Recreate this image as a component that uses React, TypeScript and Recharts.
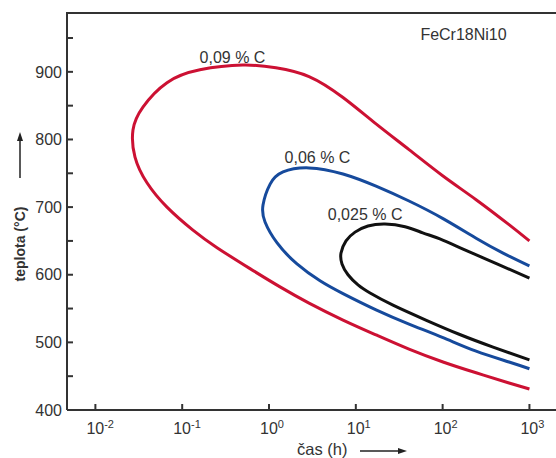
import React from 'react';
import { LineChart, Line, XAxis, YAxis, ReferenceDot } from 'recharts';

// time (h) on a log axis, temperature (°C)
const xTicks = [0.01, 0.1, 1, 10, 100, 1000];
const xTickExponents = ['-2', '-1', '0', '1', '2', '3'];
const yTicks = [400, 450, 500, 550, 600, 650, 700, 750, 800, 850, 900, 950];

const curve009 = [
  { t: 1000, T: 650 }, { t: 582, T: 674 }, { t: 243, T: 711 }, { t: 101, T: 746 },
  { t: 41, T: 785 }, { t: 17.1, T: 823 }, { t: 7.12, T: 862 }, { t: 2.89, T: 893 },
  { t: 1.2, T: 906 }, { t: 0.5, T: 910 }, { t: 0.16, T: 903 }, { t: 0.0668, T: 884 },
  { t: 0.0353, T: 848 }, { t: 0.0271, T: 814 }, { t: 0.0286, T: 774 }, { t: 0.0393, T: 736 },
  { t: 0.0668, T: 700 }, { t: 0.133, T: 666 }, { t: 0.252, T: 640 }, { t: 0.604, T: 609 },
  { t: 1.34, T: 582 }, { t: 2.89, T: 558 }, { t: 7.12, T: 533 }, { t: 17.1, T: 511 },
  { t: 41, T: 490 }, { t: 101, T: 471 }, { t: 243, T: 455 }, { t: 582, T: 440 },
  { t: 1000, T: 431 },
];

const curve006 = [
  { t: 1000, T: 613 }, { t: 497, T: 632 }, { t: 243, T: 654 }, { t: 101, T: 683 },
  { t: 41, T: 709 }, { t: 17.1, T: 731 }, { t: 7.12, T: 749 }, { t: 2.89, T: 758 },
  { t: 1.45, T: 752 }, { t: 1.03, T: 734 }, { t: 0.853, T: 703 }, { t: 0.9, T: 678 },
  { t: 1.24, T: 647 }, { t: 2.1, T: 616 }, { t: 3.87, T: 591 }, { t: 7.12, T: 572 },
  { t: 17.1, T: 548 }, { t: 41, T: 527 }, { t: 101, T: 507 }, { t: 243, T: 487 },
  { t: 582, T: 471 }, { t: 1000, T: 461 },
];

const curve0025 = [
  { t: 1000, T: 595 }, { t: 423, T: 616 }, { t: 172, T: 638 }, { t: 93, T: 653 },
  { t: 59, T: 662 }, { t: 36.9, T: 671 }, { t: 21.7, T: 675 }, { t: 13.8, T: 672 },
  { t: 9.8, T: 663 }, { t: 7.71, T: 650 }, { t: 6.75, T: 632 }, { t: 6.93, T: 616 },
  { t: 8.13, T: 600 }, { t: 10.6, T: 585 }, { t: 14.6, T: 573 }, { t: 26.8, T: 555 },
  { t: 64, T: 533 }, { t: 155, T: 512 }, { t: 381, T: 493 }, { t: 1000, T: 474 },
];

const curveLabels = [
  { t: 0.38, T: 922, text: '0,09 % C' },
  { t: 3.62, T: 774, text: '0,06 % C' },
  { t: 12.8, T: 690, text: '0,025 % C' },
  { t: 174, T: 955, text: 'FeCr18Ni10' },
];

const CHART_W = 556;
const CHART_H = 458;
const TOP_MARGIN = 13;
const Y_AXIS_W = 67;
const FONT = '"Liberation Sans", Arial, Helvetica, sans-serif';
const TEXT = '#333';
const AXIS = '#333';
const X_DOMAIN: [number, number] = [Math.pow(10, -2.327), Math.pow(10, 3.306)];
const Y_DOMAIN: [number, number] = [400, 987];

const XTick = (props: any) => {
  const { x, y, payload } = props;
  const idx = xTicks.indexOf(payload.value);
  const exp = idx >= 0 ? xTickExponents[idx] : '';
  return (
    <text x={x - 9} y={y} dy="0.72em" fontSize={16} fontFamily={FONT} fill={TEXT} textAnchor="start">
      10
      <tspan dy={-6} fontSize={11}>{exp}</tspan>
    </text>
  );
};

const YLabel = (props: any) => {
  const vb = props.viewBox || {};
  const vx = typeof vb.x === 'number' ? vb.x : 0;
  const vy = typeof vb.y === 'number' ? vb.y : TOP_MARGIN;
  const cx = vx + 20;
  const cy = vy + 231;
  return (
    <g>
      <text
        x={cx}
        y={cy}
        transform={`rotate(-90 ${cx} ${cy})`}
        textAnchor="middle"
        dominantBaseline="central"
        fontSize={14}
        fontWeight="bold"
        fontFamily={FONT}
        fill={TEXT}
      >
        teplota (°C)
      </text>
      <line x1={cx} y1={vy + 165} x2={cx} y2={vy + 126} stroke="#222" strokeWidth={1.5} />
      <polygon points={`${cx},${vy + 119} ${cx - 3},${vy + 128} ${cx + 3},${vy + 128}`} fill="#222" />
    </g>
  );
};

const XLabel = (props: any) => {
  const vb = props.viewBox || {};
  const vx = typeof vb.x === 'number' ? vb.x : Y_AXIS_W;
  const vy = typeof vb.y === 'number' ? vb.y : 410;
  const tx = vx + 230;
  const ty = vy + 45;
  return (
    <g>
      <text x={tx} y={ty} fontSize={16.5} fontFamily={FONT} fill={TEXT} textAnchor="start">
        čas (h)
      </text>
      <line x1={vx + 293} y1={vy + 41} x2={vx + 333} y2={vy + 41} stroke="#222" strokeWidth={1.5} />
      <polygon points={`${vx + 340},${vy + 41} ${vx + 331},${vy + 38} ${vx + 331},${vy + 44}`} fill="#222" />
    </g>
  );
};

export default function App() {
  return (
    <div style={{ position: 'absolute', left: 0, top: 0, background: '#fff', width: CHART_W, height: CHART_H }}>
      <LineChart width={CHART_W} height={CHART_H} margin={{ top: TOP_MARGIN, right: 0, bottom: 0, left: 0 }}>
        <XAxis
          dataKey="t"
          type="number"
          scale="log"
          domain={X_DOMAIN}
          allowDataOverflow
          ticks={xTicks}
          interval={0}
          height={48}
          tickSize={-6}
          tickMargin={18}
          tick={<XTick />}
          axisLine={{ stroke: AXIS, strokeWidth: 2 }}
          tickLine={{ stroke: AXIS, strokeWidth: 2 }}
          label={<XLabel />}
        />
        <YAxis
          type="number"
          domain={Y_DOMAIN}
          allowDataOverflow
          ticks={yTicks}
          interval={0}
          width={Y_AXIS_W}
          tickSize={-6}
          tickMargin={11}
          tickFormatter={(v: number) => (v % 100 === 0 ? String(v) : '')}
          tick={{ fontSize: 16, fill: TEXT, fontFamily: FONT }}
          axisLine={{ stroke: AXIS, strokeWidth: 2 }}
          tickLine={{ stroke: AXIS, strokeWidth: 2 }}
          label={<YLabel />}
        />
        <Line data={curve009} dataKey="T" type="natural" stroke="#cc1133" strokeWidth={3} dot={false} isAnimationActive={false} />
        <Line data={curve006} dataKey="T" type="natural" stroke="#164a9c" strokeWidth={3} dot={false} isAnimationActive={false} />
        <Line data={curve0025} dataKey="T" type="natural" stroke="#111" strokeWidth={3} dot={false} isAnimationActive={false} />
        {curveLabels.map((l) => (
          <ReferenceDot
            key={l.text}
            x={l.t}
            y={l.T}
            r={0}
            fill="none"
            stroke="none"
            ifOverflow="visible"
            label={{ value: l.text, position: 'center', fontSize: 16, fill: TEXT, fontFamily: FONT }}
          />
        ))}
      </LineChart>
      {/* top frame line of the plot area */}
      <div
        style={{
          position: 'absolute',
          left: Y_AXIS_W - 1,
          top: TOP_MARGIN - 1,
          width: CHART_W - Y_AXIS_W + 1,
          height: 2,
          background: AXIS,
          zIndex: 10,
        }}
      />
    </div>
  );
}
